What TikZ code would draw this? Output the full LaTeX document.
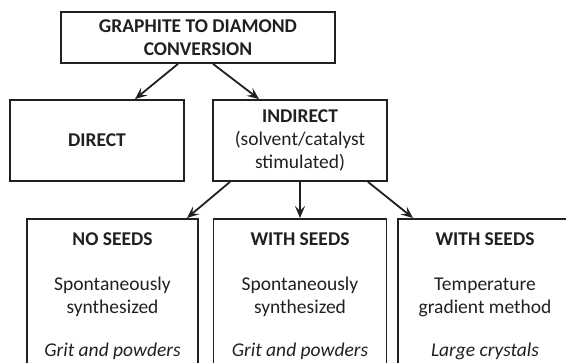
\documentclass[tikz,border=0pt]{standalone}
\usepackage{fontspec}
\setmainfont{Carlito}
\usetikzlibrary{arrows.meta}
\definecolor{inkgray}{HTML}{231F20}

\tikzset{
  box/.style={draw=inkgray, text=inkgray, line width=1.8pt, align=center, inner sep=0pt,
    font=\fontsize{19.5}{23}\selectfont},
  seedbox/.style={box, anchor=north, inner xsep=0pt, inner ysep=13.5pt},
  link/.style={->, draw=inkgray, line width=1.8pt},
}

\begin{document}
\begin{tikzpicture}[x=1pt, y=-1pt, >={Stealth[length=12pt, width=10pt, inset=5pt]}]
  \useasboundingbox (0,0) rectangle (566,363);
  \clip (0,0) rectangle (566,363);

  % top level
  \node[box, minimum width=274pt, minimum height=51pt] (conv) at (198,37.5)
    {\textbf{GRAPHITE TO DIAMOND}\\\textbf{CONVERSION}};

  % routes
  \node[box, minimum width=174pt, minimum height=81pt] (direct) at (97,140.5) {\textbf{DIRECT}};
  \node[box, minimum width=174pt, minimum height=81pt] (indirect) at (300,140.5)
    {\textbf{INDIRECT}\\(solvent/catalyst\\stimulated)};

  % indirect methods
  \node[seedbox, minimum width=171pt] (noseeds) at (112.5,218)
    {\textbf{NO SEEDS}\\[22pt]Spontaneously\\synthesized\\[20pt]\textit{Grit and powders}\rule[-30pt]{0pt}{0pt}};
  \node[seedbox, minimum width=173pt] (withseeds) at (300,218)
    {\textbf{WITH SEEDS}\\[22pt]Spontaneously\\synthesized\\[20pt]\textit{Grit and powders}\rule[-30pt]{0pt}{0pt}};
  \node[seedbox, minimum width=174pt] (gradient) at (485,218)
    {\textbf{WITH SEEDS}\\[22pt]Temperature\\gradient method\\[20pt]\textit{Large crystals}\rule[-30pt]{0pt}{0pt}};

  % arrows
  \draw[link] ([xshift=-20pt]conv.south) -- ([xshift=38pt]direct.north);
  \draw[link] ([xshift=15pt]conv.south) -- ([xshift=-41pt]indirect.north);
  \draw[link] ([xshift=-70pt]indirect.south) -- ([xshift=74.5pt]noseeds.north);
  \draw[link] (indirect.south) -- (withseeds.north);
  \draw[link] ([xshift=68pt]indirect.south) -- ([xshift=-72pt]gradient.north);
\end{tikzpicture}
\end{document}
